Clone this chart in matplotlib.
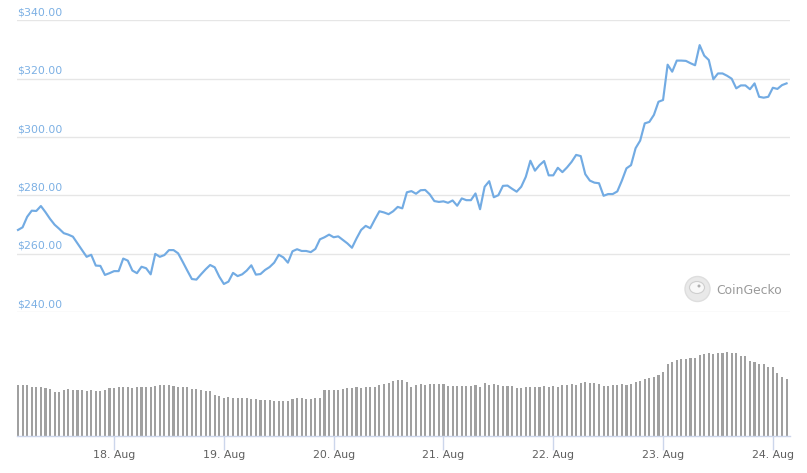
import matplotlib
matplotlib.use("Agg")
import matplotlib.pyplot as plt
import matplotlib.dates as mdates
from matplotlib.patches import Ellipse
import numpy as np
import datetime as dt

# ---- data ----
start_time = dt.datetime(2020, 8, 17, 3, 0)

price = [
    268.2, 269.1, 272.7, 274.8, 274.7, 276.4, 274.3, 272.0, 270.0, 268.6,
    267.1, 266.6, 265.9, 263.6, 261.3, 259.0, 259.7, 256.0, 255.9, 252.8,
    253.4, 254.1, 254.1, 258.4, 257.7, 254.3, 253.4, 255.6, 255.1, 253.0,
    260.0, 259.0, 259.6, 261.3, 261.3, 260.2, 257.3, 254.3, 251.4, 251.2,
    253.0, 254.7, 256.2, 255.4, 252.2, 249.7, 250.5, 253.5, 252.4, 253.0,
    254.3, 256.1, 252.9, 253.1, 254.5, 255.5, 257.0, 259.7, 258.8, 257.0,
    260.9, 261.6, 261.0, 261.0,
    260.6, 261.7, 265.0, 265.7, 266.6, 265.7, 266.0, 264.8, 263.6, 262.1,
    265.3, 268.2, 269.6, 268.8, 271.8, 274.6, 274.2, 273.6, 274.6, 276.1,
    275.6, 281.1, 281.5, 280.6, 281.8, 281.9, 280.4, 278.1, 277.8, 278.0,
    277.5, 278.3,
    276.5, 279.0, 278.4, 278.4, 280.7, 275.3, 283.0, 284.9, 279.4, 280.1,
    283.3, 283.4, 282.3, 281.3, 283.0, 286.4, 291.9, 288.5, 290.4, 291.8,
    286.9, 286.9, 289.5, 288.0, 289.6, 291.5, 293.9, 293.5, 287.3, 285.1,
    284.4, 284.2,
    279.9, 280.5, 280.5, 281.4, 285.1, 289.3, 290.4, 296.2, 298.8, 304.7,
    305.2, 307.6, 312.1, 312.7, 324.8, 322.4, 326.2, 326.2, 326.1, 325.3,
    324.6, 331.5, 327.9, 326.4, 319.8, 321.8, 321.8, 321.0, 320.0, 316.7,
    317.7, 317.7, 316.4, 318.4, 313.8, 313.5, 313.8, 316.9, 316.5, 317.8,
    318.4,
]

# relative traded volume (arbitrary units)
volume = [
    51.0, 51.0, 51.0, 48.7, 48.7, 48.7, 47.7, 46.7, 44.3, 43.7,
    46.0, 46.7, 46.0, 46.0, 46.0, 45.0, 46.0, 45.3, 45.3, 46.0,
    47.7, 47.7, 49.3, 49.3, 48.7, 47.7, 48.7, 48.7, 48.7, 49.3,
    50.3, 51.0, 51.0, 51.0, 50.3, 49.3, 48.7, 48.7, 46.7, 46.7,
    46.0, 45.0, 45.0, 41.0, 40.0, 38.3, 38.7, 37.7, 37.7, 37.7,
    37.7, 36.7, 36.7, 36.0, 36.0, 36.0, 35.3, 35.3, 35.3, 34.7,
    36.7, 37.7, 37.7, 37.0, 36.7, 37.7, 37.7, 46.0, 46.0, 46.0,
    46.0, 46.7, 47.7, 47.7, 48.7, 47.7, 48.7, 48.7, 48.7, 51.0,
    52.0, 53.3, 55.0, 56.0, 56.0, 53.7, 48.7, 51.0, 51.7, 51.0,
    51.7, 51.7, 51.7, 51.7, 50.0, 50.0, 50.0, 50.0, 50.0, 50.0,
    50.7, 48.7, 52.7, 51.0, 51.7, 51.0, 50.0, 50.0, 50.0, 47.7,
    48.3, 48.7, 48.7, 48.7, 48.7, 49.7, 48.7, 50.0, 48.7, 51.0,
    51.0, 51.7, 51.0, 52.7, 53.7, 52.7, 52.7, 51.7, 50.0, 50.0,
    51.0, 51.0, 51.7, 51.0, 51.7, 54.3, 54.7, 56.7, 57.7, 58.7,
    61.0, 63.7, 71.7, 74.3, 76.0, 76.7, 77.0, 77.7, 77.7, 81.0,
    82.0, 82.7, 82.0, 82.7, 83.3, 84.3, 83.3, 82.7, 80.3, 80.3,
    75.3, 73.7, 72.0, 71.7, 68.7, 68.7, 62.7, 58.7, 56.7,
]

day_ticks = [dt.datetime(2020, 8, d) for d in range(18, 25)]
day_labels = [f"{d}. Aug" for d in range(18, 25)]
price_ticks = [240, 260, 280, 300, 320, 340]

# ---- figure ----
W, H = 807, 473
fig = plt.figure(figsize=(W / 100, H / 100), dpi=100)
fig.patch.set_facecolor("white")

times = [start_time + dt.timedelta(hours=i) for i in range(len(price))]
tnum = mdates.date2num(times)
hour = 1 / 24.0
xmin = tnum[0] - 0.22 * hour
xmax = tnum[-1] + 0.75 * hour

def fx(px):
    return px / W

def fy(py):
    return 1 - py / H

line_col = "#72abe3"
lab_col = "#7cb0e4"
grid_col = "#e6e6e6"

# price axes
ax = fig.add_axes([fx(17), fy(312.3), fx(790) - fx(17), fy(20.3) - fy(312.3)])
ax.set_xlim(xmin, xmax)
ax.set_ylim(240, 340)
for p in price_ticks:
    ax.axhline(p, color=grid_col, lw=1.0, zorder=0)
    ax.text(0.0, p + 1.0, f"${p:.2f}", transform=ax.get_yaxis_transform(),
            color=lab_col, fontsize=7.9, family="DejaVu Sans",
            ha="left", va="bottom")
ax.plot(tnum, price, color=line_col, lw=1.55, solid_joinstyle="round",
        clip_on=False, zorder=3)
ax.axis("off")

# volume axes
axv = fig.add_axes([fx(17), fy(436), fx(790) - fx(17), fy(320) - fy(436)])
axv.set_xlim(xmin, xmax)
axv.set_ylim(0, 116)
axv.bar(tnum, volume, width=hour * 0.46, color="#a0a0a0", align="center",
        zorder=2)
for s in ["top", "right", "left"]:
    axv.spines[s].set_visible(False)
axv.spines["bottom"].set_color("#ccd6eb")
axv.spines["bottom"].set_linewidth(1.0)
axv.set_yticks([])
axv.set_xticks(mdates.date2num(day_ticks))
axv.set_xticklabels(day_labels)
axv.tick_params(axis="x", length=10, width=1, color="#ccd6eb",
                labelcolor="#606060", labelsize=7.9, pad=0)

# CoinGecko watermark
cx, cy = 697.5, 289
def px_ellipse(x, y, w, h, **kw):
    e = Ellipse((fx(x), fy(y)), width=w / W, height=h / H,
                transform=fig.transFigure, **kw)
    fig.patches.append(e)

px_ellipse(cx, cy, 25, 25, facecolor="#e9e9e9", edgecolor="#dedede", lw=1.0)
px_ellipse(cx - 0.5, cy - 1.5, 15, 12, facecolor="#f8f8f8",
           edgecolor="#cfcfcf", lw=0.8)
px_ellipse(cx + 1.5, cy - 3.0, 3, 3, facecolor="#b0b0b0", edgecolor="none")
fig.text(fx(716), fy(291), "CoinGecko", color="#9a9a9a", fontsize=8.9,
         family="DejaVu Sans", ha="left", va="center")

fig.savefig("out.png", dpi=100, facecolor="white")
